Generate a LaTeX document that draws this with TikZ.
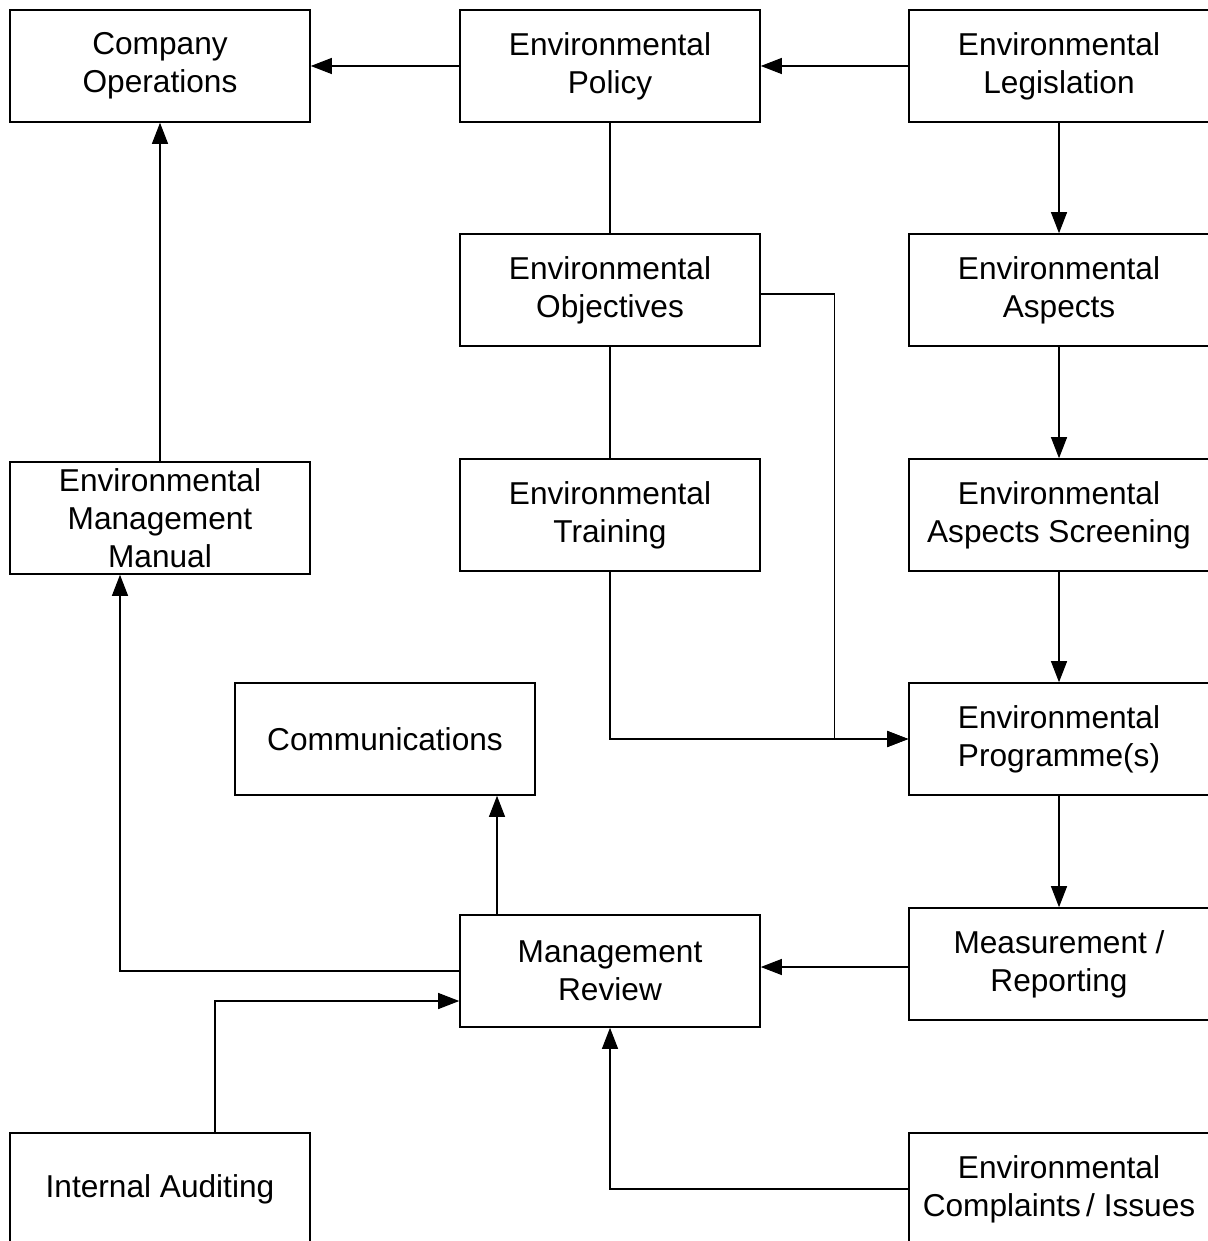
\documentclass[tikz,border=0pt]{standalone}
\usepackage{fontspec}
\setmainfont{Liberation Sans}
\usetikzlibrary{arrows.meta}
\usetikzlibrary{calc}

\tikzset{
  emsbox/.style={draw, line width=0.45pt, minimum width=30mm, minimum height=11.2mm,
    inner sep=0pt, align=center, font=\fontsize{9}{10.8}\selectfont},
  flow/.style={line width=0.3pt, -{Triangle[length=2.1mm, width=1.6mm]}},
  link/.style={line width=0.3pt}
}

\begin{document}
\begin{tikzpicture}[x=0.1mm, y=-0.1mm]
            \useasboundingbox (0,0) rectangle (1207,1241);

            \node[emsbox] (comp) at (160,66) {Company\\Operations};
            \node[emsbox] (policy) at (610,66) {Environmental\\Policy};
            \node[emsbox] (legis) at (1059,66) {Environmental\\Legislation};
            \node[emsbox] (obj) at (610,290) {Environmental\\Objectives};
            \node[emsbox] (aspects) at (1059,290) {Environmental\\Aspects};
            \node[emsbox] (emm) at (160,518) {Environmental\\Management\\Manual};
            \node[emsbox] (train) at (610,515) {Environmental\\Training};
            \node[emsbox] (screen) at (1059,515) {Environmental\\Aspects Screening};
            \node[emsbox] (comm) at (385,739) {Communications};
            \node[emsbox] (prog) at (1059,739) {Environmental\\Programme(s)};
            \node[emsbox] (review) at (610,971) {Management\\Review};
            \node[emsbox] (meas) at (1059,964) {Measurement /\\Reporting};
            \node[emsbox] (audit) at (160,1189) {Internal Auditing};
            \node[emsbox] (compl) at (1059,1189) {Environmental\\Complaints\,/ Issues};

            \draw[flow] (policy) -- (comp);
            \draw[flow] (legis) -- (policy);
            \draw[flow] (emm) -- (comp);
            \draw[link] (policy) -- (obj);
            \draw[link] (obj) -- (train);
            \draw[flow] (legis) -- (aspects);
            \draw[flow] (aspects) -- (screen);
            \draw[flow] (screen) -- (prog);
            \draw[flow] (prog) -- (meas);
            \draw[flow] ($(obj.east)+(0,4)$) -- ++(74,0) |- (prog.west);
            \draw[flow] (train.south) |- (prog.west);
            \draw[flow] ($(meas.west)+(0,3)$) -- ($(review.east)+(0,-4)$);
            \draw[flow] (review.west) -| ($(emm.south)+(-40,0)$);
            \draw[flow] ($(audit.north)+(55,0)$) |- ($(review.west)+(0,30)$);
            \draw[flow] ($(review.north)+(-113,0)$) -- ($(comm.south)+(112,0)$);
            \draw[flow] (compl.west) -| (review.south);
        \end{tikzpicture}
\end{document}
